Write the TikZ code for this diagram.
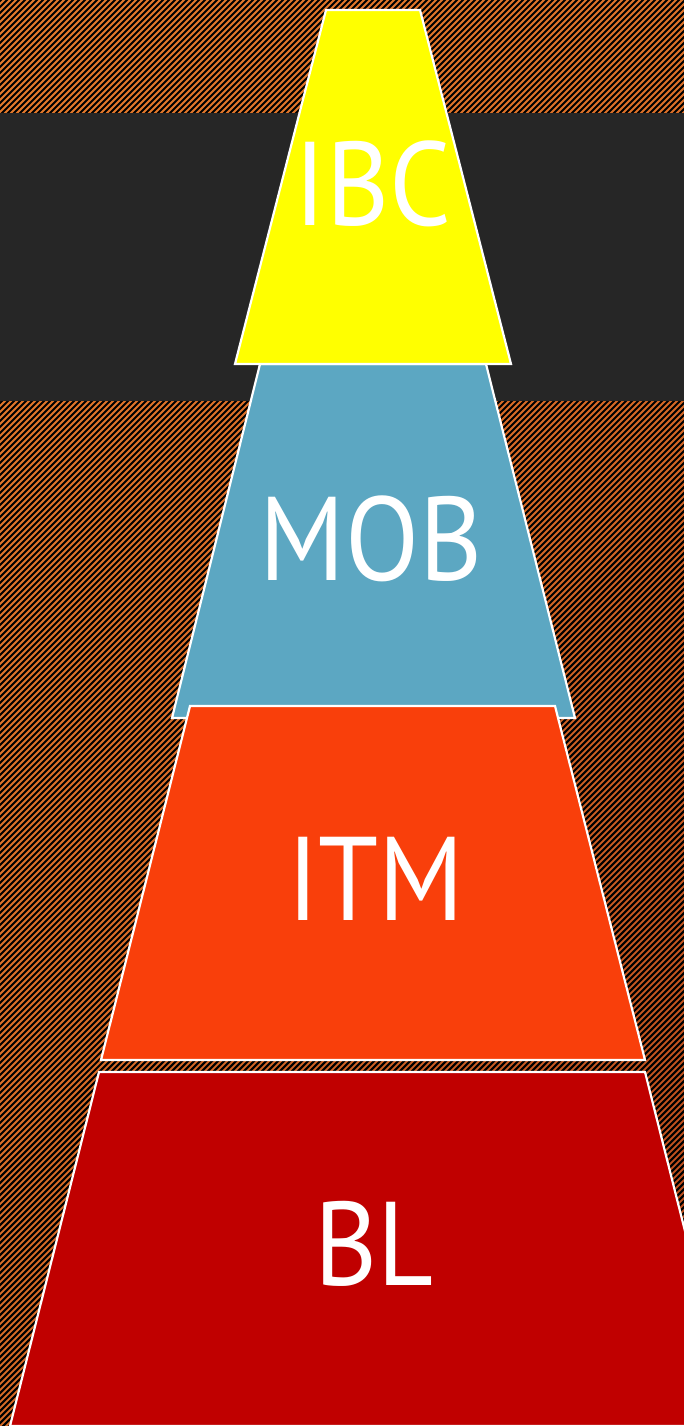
\documentclass[tikz,border=0pt]{standalone}
\usepackage{fontspec}
\usetikzlibrary{shadings}
\setmainfont{PT Sans}
\newfontfamily\tierfont[FakeStretch=0.91]{PT Sans}
\definecolor{bgTL}{HTML}{E47A2C}
\definecolor{bgBR}{HTML}{B8481C}
\definecolor{band}{HTML}{262626}
\definecolor{lvlA}{HTML}{FFFF00}
\definecolor{lvlB}{HTML}{5CA7C2}
\definecolor{lvlC}{HTML}{F93F0B}
\definecolor{lvlD}{HTML}{C00000}
\tikzset{
  tier/.style={draw=white, line width=2.2pt, line join=miter},
  tierlabel/.style={text=white, anchor=base, inner sep=0pt,
    font=\tierfont\fontsize{119}{125}\selectfont},
  stripe/.style={black, line width=2.1pt}
}
\begin{document}
\begin{tikzpicture}[x=1pt, y=-1pt]
  \useasboundingbox (0,0) rectangle (684,1426);
  % striped backdrop
  \begin{scope}
    \clip (0,0) rectangle (684,1426);
    \shade[upper left=bgTL, upper right=bgTL!85!bgBR, lower left=bgTL!70!bgBR, lower right=bgBR]
      (0,0) rectangle (684,1426);
    \foreach \i in {0,6,...,2118}
      \draw[stripe] (\i,-5) -- ++(-1436,1436);
    % dark band behind the top tier
    \fill[band] (0,113) rectangle (684,401);
  \end{scope}
  % tiers, bottom to top of the stack order
  \begin{scope}
    \clip (0,0) rectangle (684,1426);
    \draw[tier, fill=lvlD] (99,1072) -- (645,1072) -- (734,1426) -- (10,1426) -- cycle;
    \draw[tier, fill=lvlB] (260,364) -- (486,364) -- (575,718) -- (172,718) -- cycle;
    \draw[tier, fill=lvlC] (190,706) -- (555,706) -- (645,1060) -- (101,1060) -- cycle;
    \draw[tier, fill=lvlA] (326,10) -- (420,10) -- (511,364) -- (235,364) -- cycle;
  \end{scope}
  \node[tierlabel] (ibc) at (373,225) {IBC};
  \node[tierlabel] (mob) at (371,580) {MOB};
  \node[tierlabel] (itm) at (376,920) {ITM};
  \node[tierlabel] (bl)  at (374,1285) {BL};
\end{tikzpicture}
\end{document}
